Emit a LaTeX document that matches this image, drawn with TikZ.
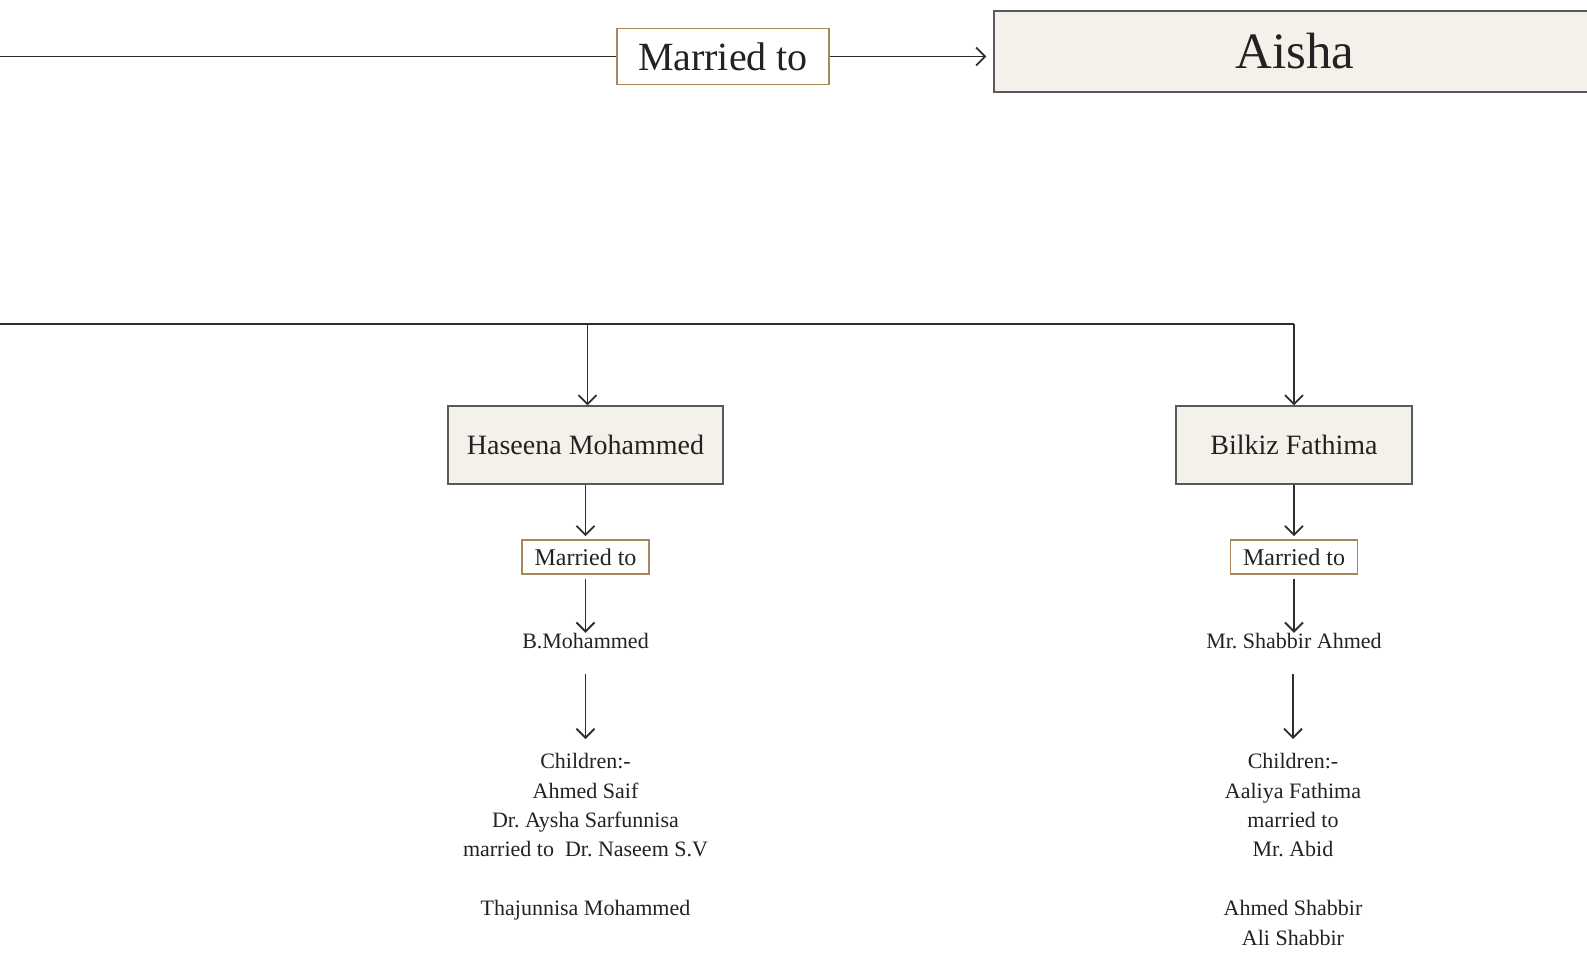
\documentclass[tikz,border=0pt]{standalone}
\usepackage{fontspec}
\setmainfont{Liberation Serif}
\usetikzlibrary{arrows.meta}
\definecolor{boxfill}{HTML}{F4F1EB}
\definecolor{boxline}{HTML}{5A5A5A}
\definecolor{marline}{HTML}{A8875C}
\definecolor{connc}{HTML}{2E2E2E}
\definecolor{txt}{HTML}{222222}
\frenchspacing
\begin{document}
\frenchspacing
\begin{tikzpicture}[x=0.5pt,y=-0.5pt,
  namebox/.style={draw=boxline, fill=boxfill, line width=0.55pt, inner sep=0pt, text=txt},
  marbox/.style={draw=marline, fill=white, line width=0.8pt, inner sep=0pt, text=txt},
  plain/.style={inner sep=0pt, text=txt, align=center, font=\fontsize{11pt}{14.7pt}\selectfont},
  conn/.style={draw=connc, line width=0.95pt},
  arr/.style={conn, -{Straight Barb[length=4.5pt,width=9pt]}}]
\useasboundingbox (0,0) rectangle (1587,953);
% top row
\node[marbox, minimum width=106pt, minimum height=28pt, font=\fontsize{20pt}{24pt}\selectfont] (m0) at (723,56.5) {Married to};
\node[namebox, minimum width=301pt, minimum height=40.5pt, font=\fontsize{25.5pt}{30pt}\selectfont] (aisha) at (1295,51.5) {Aisha};
\coordinate (l0) at (0,56.5);
\draw[conn] (l0) -- (m0.west);
\draw[arr, shorten >=3.5pt] (m0.east) -- (aisha.west |- m0.east);
% children boxes
\node[namebox, minimum width=137.5pt, minimum height=39pt, font=\fontsize{14pt}{16pt}\selectfont] (hasina) at (585.5,445) {Haseena Mohammed};
\node[namebox, minimum width=118pt, minimum height=39pt, font=\fontsize{14pt}{16pt}\selectfont] (bilkiz) at (1294,445) {Bilkiz Fathima};
% bus
\coordinate (bus0) at (0,324);
\coordinate (busL) at (587.5,324);
\coordinate (busR) at (1294,324);
\draw[conn] (bus0) -- (busR);
\draw[arr] (busR) -- (bilkiz.north);
\draw[arr] (busL) -- (busL |- hasina.north);
% left column
\node[marbox, minimum width=63.5pt, minimum height=17pt, font=\fontsize{12pt}{14pt}\selectfont] (marL) at (585.5,557) {Married to};
\node[plain] (bmoh) at (585.5,641) {B.Mohammed};
\node[plain, anchor=north] (kidsL) at (585.5,753) {Children:-\\Ahmed Saif\\Dr. Aysha Sarfunnisa\\married to\ \ Dr. Naseem S.V\\[14.7pt]Thajunnisa Mohammed};
\draw[arr, shorten >=1.5pt] (hasina.south) -- (marL.north);
\draw[arr, shorten <=2pt] (marL.south) -- (bmoh.north);
\draw[arr, shorten <=12.25pt, shorten >=7pt] (bmoh.south) -- (kidsL.north);
% right column
\node[marbox, minimum width=63.5pt, minimum height=17pt, font=\fontsize{12pt}{14pt}\selectfont] (marR) at (1294,557) {Married to};
\node[plain] (shab) at (1294,641) {Mr. Shabbir Ahmed};
\node[plain, anchor=north] (kidsR) at (1293,753) {Children:-\\Aaliya Fathima\\married to\\Mr. Abid\\[14.7pt]Ahmed Shabbir\\Ali Shabbir};
\draw[arr, shorten >=1.5pt] (bilkiz.south) -- (marR.north);
\draw[arr, shorten <=2pt] (marR.south) -- (shab.north);
\draw[arr, shorten <=12.25pt, shorten >=7pt] (shab.south -| kidsR.north) -- (kidsR.north);
\end{tikzpicture}
\end{document}
